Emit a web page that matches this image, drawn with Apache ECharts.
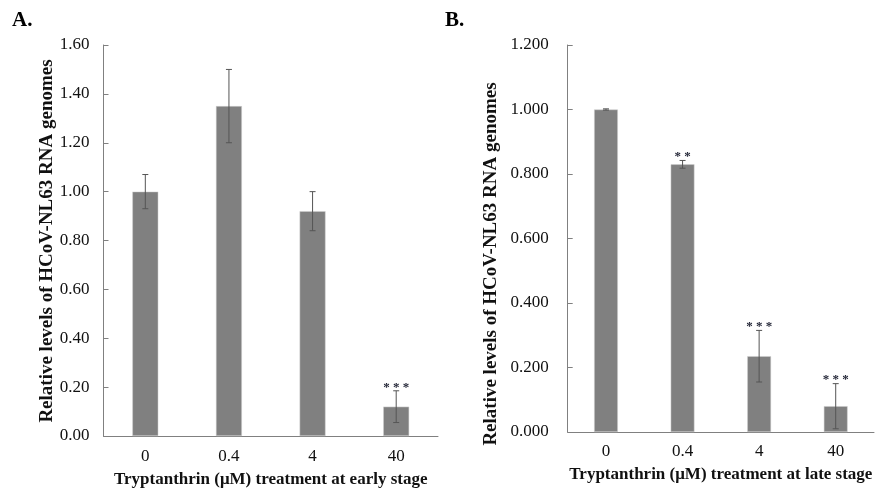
<!DOCTYPE html>
<html>
<head>
<meta charset="utf-8">
<script src="https://cdn.jsdelivr.net/npm/echarts@6/dist/echarts.min.js"></script>
<style>html,body{margin:0;padding:0;background:#fff;}#c{width:877px;height:488px;}</style>
</head>
<body>
<div id="c"></div>
<script>
const categories = ['0', '0.4', '4', '40'];
const valuesA = [1.00, 1.35, 0.92, 0.12];
const errA = [0.07, 0.15, 0.08, 0.065];
const sigA = ['', '', '', '* * *'];
const valuesB = [1.000, 0.830, 0.235, 0.080];
const errB = [0.002, 0.012, 0.08, 0.07];
const sigB = ['', '* *', '* * *', '* * *'];
const yMaxA = 1.6, yMaxB = 1.2, yStep = 0.2;
const yTitle = 'Relative levels of HCoV-NL63 RNA genomes';
const xTitleA = 'Tryptanthrin (\u03bcM) treatment at early stage';
const xTitleB = 'Tryptanthrin (\u03bcM) treatment at late stage';

const FONT = '"Liberation Serif", "Times New Roman", serif';
const chart = echarts.init(document.getElementById('c'), null, {renderer: 'canvas'});

function errData(vals, errs, sigs) {
  return vals.map((v, i) => [i, v - errs[i], v + errs[i], sigs[i]]);
}
function errRender(params, api) {
  const x = api.value(0);
  const lo = api.coord([x, api.value(1)]);
  const hi = api.coord([x, api.value(2)]);
  const cap = 3;
  const st = {stroke: '#555', lineWidth: 1};
  const children = [
    {type: 'line', shape: {x1: lo[0], y1: lo[1], x2: hi[0], y2: hi[1]}, style: st},
    {type: 'line', shape: {x1: hi[0] - cap, y1: hi[1], x2: hi[0] + cap, y2: hi[1]}, style: st},
    {type: 'line', shape: {x1: lo[0] - cap, y1: lo[1], x2: lo[0] + cap, y2: lo[1]}, style: st}
  ];
  const s = api.value(3);
  if (s) {
    children.push({type: 'text', style: {text: s, x: hi[0], y: hi[1] - 3.5, align: 'center', verticalAlign: 'middle',
      font: 'bold 13px ' + FONT, fill: '#1f2233'}});
  }
  return {type: 'group', children};
}

function xAxisCfg(idx, name, gap, lm) {
  return {
    type: 'category', gridIndex: idx, data: categories,
    axisLine: {lineStyle: {color: '#808080', width: 1}},
    axisTick: {inside: true, length: 5, lineStyle: {color: '#808080'}},
    axisLabel: {fontFamily: FONT, fontSize: 17, color: '#111', margin: lm},
    name: name, nameLocation: 'middle', nameGap: gap,
    nameTextStyle: {fontFamily: FONT, fontSize: 17, fontWeight: 'bold', color: '#111'}
  };
}
function yAxisCfg(idx, max, dec, lmargin) {
  return {
    type: 'value', gridIndex: idx, min: 0, max: max, interval: yStep,
    splitLine: {show: false},
    axisLine: {show: true, lineStyle: {color: '#808080', width: 1}},
    axisTick: {show: true, inside: true, length: 5, lineStyle: {color: '#808080'}},
    axisLabel: {fontFamily: FONT, fontSize: 17, color: '#111', margin: lmargin,
      formatter: v => v.toFixed(dec)}
  };
}

chart.setOption({
  animation: false,
  backgroundColor: '#fff',
  grid: [
    {left: 103.5, top: 45, width: 334.5, height: 391, outerBoundsMode: 'none', containLabel: false},
    {left: 567.7, top: 45, width: 306.3, height: 387, outerBoundsMode: 'none', containLabel: false}
  ],
  xAxis: [xAxisCfg(0, xTitleA, 35, 12), xAxisCfg(1, xTitleB, 34, 11)],
  yAxis: [yAxisCfg(0, yMaxA, 2, 14), yAxisCfg(1, yMaxB, 3, 19)],
  graphic: [
    {type: 'text', left: 12, top: 10, style: {text: 'A.', font: 'bold 21px ' + FONT, fill: '#000'}},
    {type: 'text', left: 445, top: 10, style: {text: 'B.', font: 'bold 21px ' + FONT, fill: '#000'}},
    {type: 'text', x: 47.5, y: 241, rotation: Math.PI / 2,
      style: {text: yTitle, font: 'bold 19px ' + FONT, fill: '#111', align: 'center', verticalAlign: 'middle'}},
    {type: 'text', x: 491, y: 264, rotation: Math.PI / 2,
      style: {text: yTitle, font: 'bold 19px ' + FONT, fill: '#111', align: 'center', verticalAlign: 'middle'}}
  ],
  series: [
    {type: 'bar', xAxisIndex: 0, yAxisIndex: 0, data: valuesA, barWidth: '31%',
      itemStyle: {color: '#808080', borderColor: '#d0d0d0', borderWidth: 0.5}},
    {type: 'bar', xAxisIndex: 1, yAxisIndex: 1, data: valuesB, barWidth: '31%',
      itemStyle: {color: '#808080', borderColor: '#d0d0d0', borderWidth: 0.5}},
    {type: 'custom', xAxisIndex: 0, yAxisIndex: 0, data: errData(valuesA, errA, sigA), renderItem: errRender, z: 5},
    {type: 'custom', xAxisIndex: 1, yAxisIndex: 1, data: errData(valuesB, errB, sigB), renderItem: errRender, z: 5}
  ]
});
</script>
</body>
</html>
